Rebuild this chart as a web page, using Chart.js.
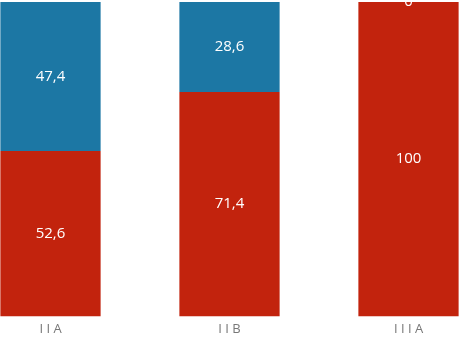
<!DOCTYPE html>
<html lang="en">
<head>
    <meta charset="UTF-8">
    <title>IIA IIB IIIA</title>
    <script src="https://cdn.jsdelivr.net/npm/chart.js@4.4.0/dist/chart.umd.min.js"></script>
    <style>
        html, body {
            margin: 0;
            padding: 0;
            background: #ffffff;
            overflow: hidden;
            width: 462px;
            height: 342px;
        }

        .chart-box {
            position: absolute;
            left: -39px;
            top: 0;
            width: 537px;
            height: 342px;
        }
    </style>
</head>
<body>
    <div class="chart-box">
        <canvas id="chart"></canvas>
    </div>

    <script>
        const categories = ['IIA', 'IIB', 'IIIA'];
        const redValues = [52.6, 71.4, 100];
        const blueValues = [47.4, 28.6, 0];

        // draws the value in the middle of each segment, comma decimals
        const segmentLabels = {
            id: 'segmentLabels',
            afterDatasetsDraw(chart) {
                const ctx = chart.ctx;
                ctx.save();
                ctx.fillStyle = '#ffffff';
                ctx.font = '15px "Open Sans", "DejaVu Sans", sans-serif';
                ctx.textAlign = 'center';
                ctx.textBaseline = 'middle';
                chart.data.datasets.forEach((ds, i) => {
                    chart.getDatasetMeta(i).data.forEach((bar, j) => {
                        const v = ds.data[j];
                        const text = String(v).replace('.', ',');
                        const y = (bar.y + bar.base) / 2;
                        ctx.fillText(text, bar.x, y);
                    });
                });
                ctx.restore();
            }
        };

        new Chart(document.getElementById('chart'), {
            type: 'bar',
            data: {
                labels: categories,
                datasets: [
                    {
                        data: redValues,
                        backgroundColor: '#c2230d',
                        barPercentage: 0.56,
                        categoryPercentage: 1
                    },
                    {
                        data: blueValues,
                        backgroundColor: '#1c77a4',
                        barPercentage: 0.56,
                        categoryPercentage: 1
                    }
                ]
            },
            options: {
                responsive: true,
                maintainAspectRatio: false,
                animation: false,
                layout: {
                    padding: { top: 2, bottom: 0, left: 0, right: 0 }
                },
                plugins: {
                    legend: { display: false },
                    tooltip: { enabled: false }
                },
                scales: {
                    x: {
                        stacked: true,
                        grid: { display: false, drawTicks: false, tickLength: 0 },
                        border: { display: false },
                        ticks: {
                            color: '#777777',
                            padding: 5,
                            font: { size: 13, family: '"Open Sans", "DejaVu Sans", sans-serif' },
                            callback: function (val) {
                                return this.getLabelForValue(val).split('').join(' ');
                            }
                        }
                    },
                    y: {
                        stacked: true,
                        display: false,
                        min: 0,
                        max: 100
                    }
                }
            },
            plugins: [segmentLabels]
        });
    </script>
</body>
</html>
